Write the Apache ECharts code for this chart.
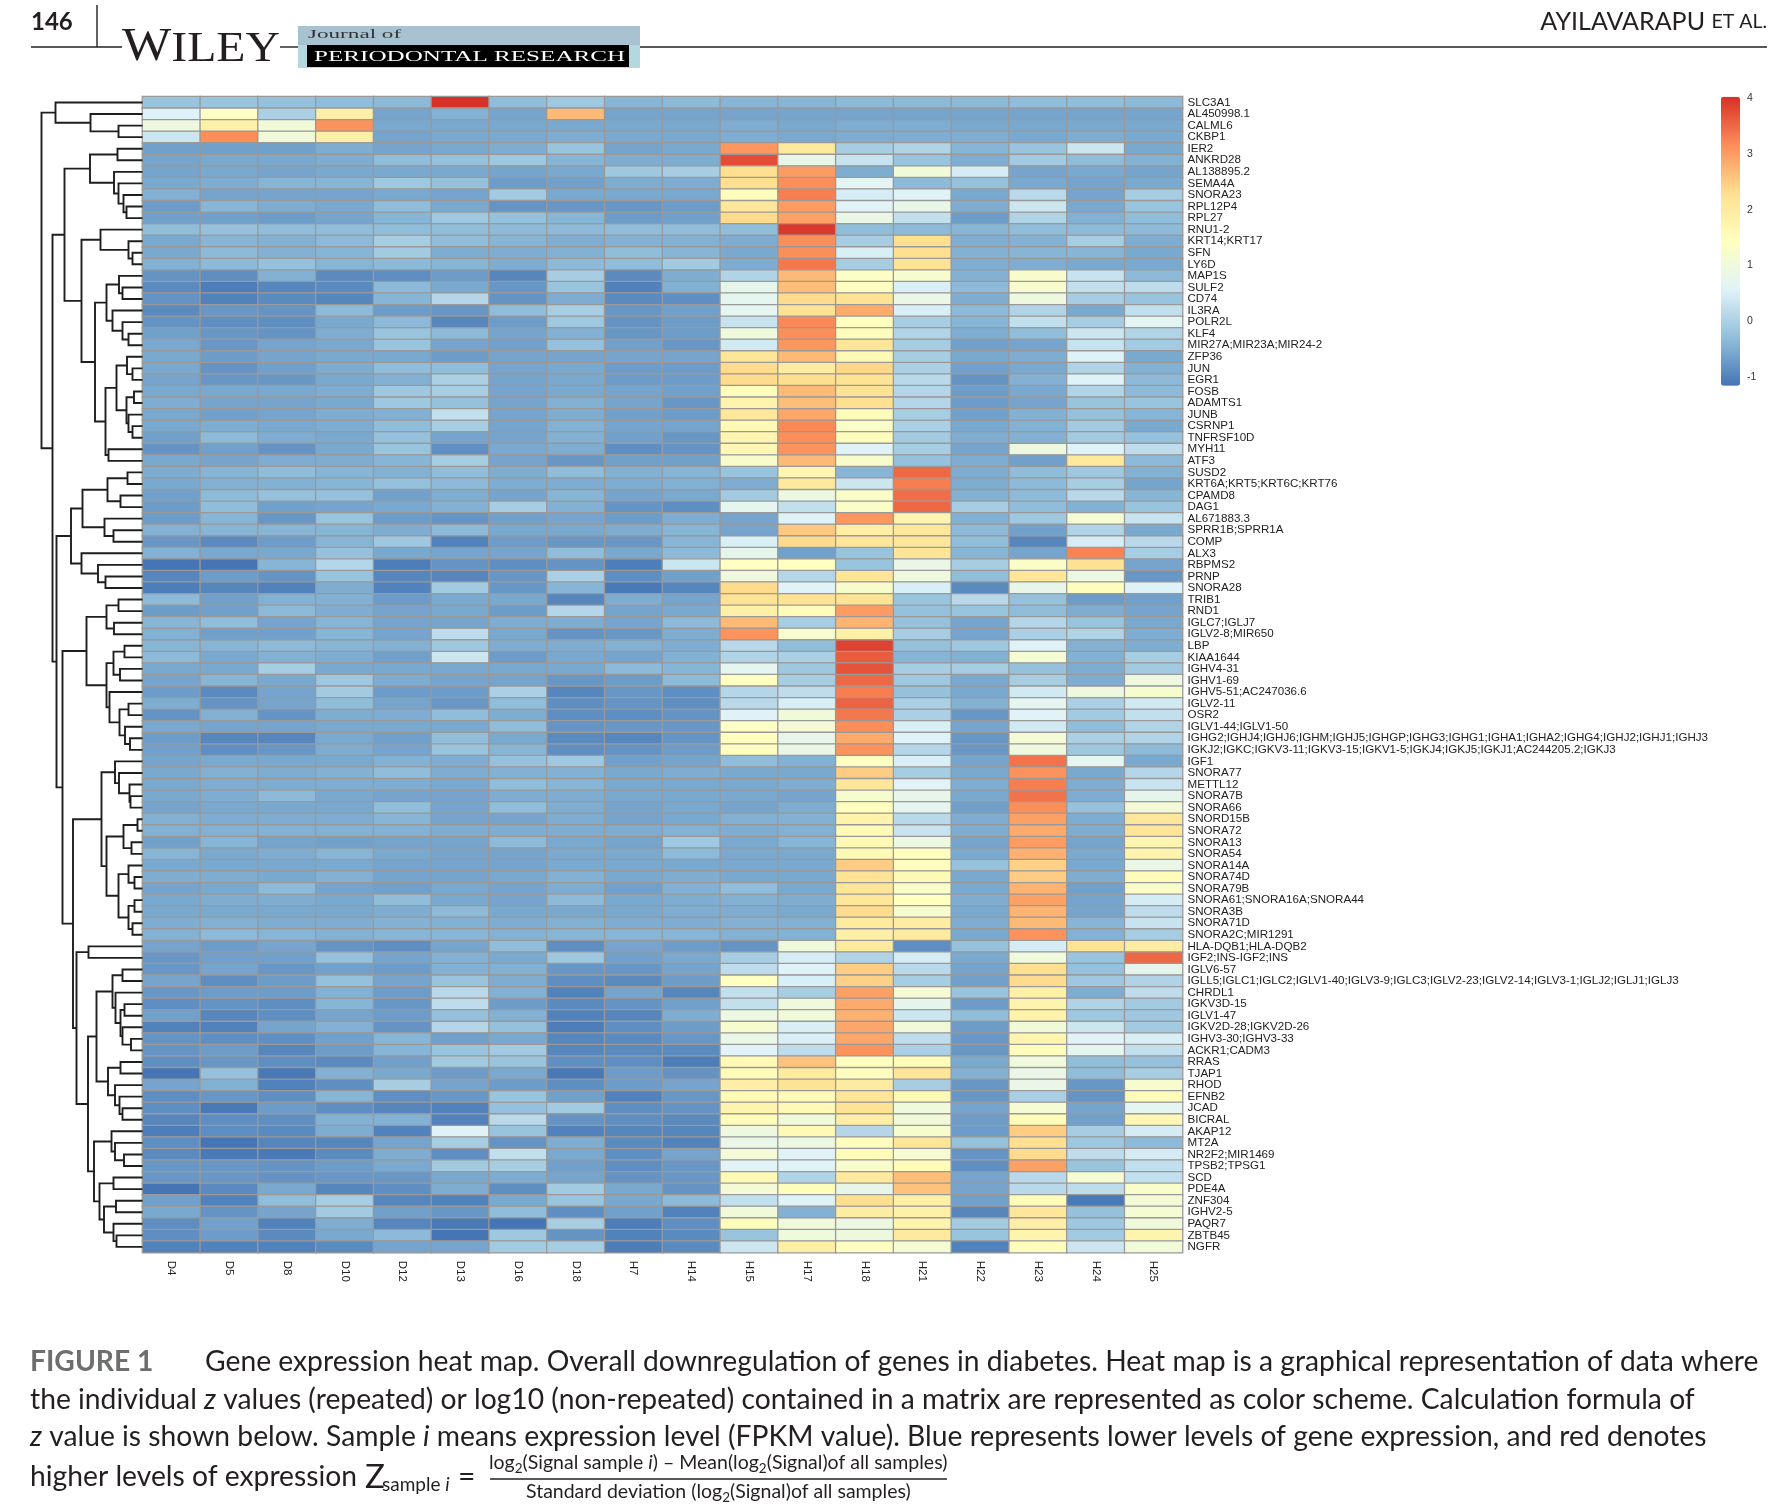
<!DOCTYPE html>
<html><head><meta charset="utf-8">
<style>html,body{margin:0;padding:0;background:#fff}#c{width:1774px;height:1506px}</style>
<script src="https://cdn.jsdelivr.net/npm/echarts@6/dist/echarts.min.js"></script>
</head><body><div id="c"></div>
<script>
const samples = ['D4','D5','D8','D10','D12','D13','D16','D18','H7','H14','H15','H17','H18','H21','H22','H23','H24','H25'];
const genes = ['SLC3A1','AL450998.1','CALML6','CKBP1','IER2','ANKRD28','AL138895.2','SEMA4A','SNORA23','RPL12P4','RPL27','RNU1-2','KRT14;KRT17','SFN','LY6D','MAP1S','SULF2','CD74','IL3RA','POLR2L','KLF4','MIR27A;MIR23A;MIR24-2','ZFP36','JUN','EGR1','FOSB','ADAMTS1','JUNB','CSRNP1','TNFRSF10D','MYH11','ATF3','SUSD2','KRT6A;KRT5;KRT6C;KRT76','CPAMD8','DAG1','AL671883.3','SPRR1B;SPRR1A','COMP','ALX3','RBPMS2','PRNP','SNORA28','TRIB1','RND1','IGLC7;IGLJ7','IGLV2-8;MIR650','LBP','KIAA1644','IGHV4-31','IGHV1-69','IGHV5-51;AC247036.6','IGLV2-11','OSR2','IGLV1-44;IGLV1-50','IGHG2;IGHJ4;IGHJ6;IGHM;IGHJ5;IGHGP;IGHG3;IGHG1;IGHA1;IGHA2;IGHG4;IGHJ2;IGHJ1;IGHJ3','IGKJ2;IGKC;IGKV3-11;IGKV3-15;IGKV1-5;IGKJ4;IGKJ5;IGKJ1;AC244205.2;IGKJ3','IGF1','SNORA77','METTL12','SNORA7B','SNORA66','SNORD15B','SNORA72','SNORA13','SNORA54','SNORA14A','SNORA74D','SNORA79B','SNORA61;SNORA16A;SNORA44','SNORA3B','SNORA71D','SNORA2C;MIR1291','HLA-DQB1;HLA-DQB2','IGF2;INS-IGF2;INS','IGLV6-57','IGLL5;IGLC1;IGLC2;IGLV1-40;IGLV3-9;IGLC3;IGLV2-23;IGLV2-14;IGLV3-1;IGLJ2;IGLJ1;IGLJ3','CHRDL1','IGKV3D-15','IGLV1-47','IGKV2D-28;IGKV2D-26','IGHV3-30;IGHV3-33','ACKR1;CADM3','RRAS','TJAP1','RHOD','EFNB2','JCAD','BICRAL','AKAP12','MT2A','NR2F2;MIR1469','TPSB2;TPSG1','SCD','PDE4A','ZNF304','IGHV2-5','PAQR7','ZBTB45','NGFR'];
// z values, one row per gene, columns in the order of samples
const expression = [
[-.2,-.2,-.25,-.3,-.35,4,-.3,-.15,-.4,-.35,-.4,-.4,-.35,-.35,-.35,-.3,-.3,-.35],
[.55,1.35,0,1.9,-.6,-.45,-.6,2.7,-.6,-.6,-.6,-.6,-.6,-.6,-.6,-.6,-.6,-.6],
[.95,1.85,1.05,3.1,-.55,-.55,-.55,-.55,-.55,-.55,-.5,-.55,-.5,-.5,-.55,-.55,-.55,-.55],
[.35,3.15,1.05,1.9,-.6,-.55,-.55,-.5,-.55,-.55,-.5,-.55,-.5,-.5,-.5,-.55,-.5,-.55],
[-.65,-.65,-.65,-.5,-.6,-.55,-.5,-.2,-.6,-.55,3.05,2.05,-.05,.05,-.4,-.2,.35,-.55],
[-.6,-.55,-.55,-.5,-.3,-.25,-.15,-.4,-.5,-.5,3.75,.8,.3,-.2,-.5,-.1,-.3,-.45],
[-.6,-.55,-.6,-.55,-.55,-.55,-.6,-.55,-.15,-.05,2.3,3,-.5,1.05,.45,-.6,-.55,-.6],
[-.55,-.5,-.4,-.4,-.15,-.25,-.7,-.65,-.5,-.5,2.3,3.15,.65,-.35,-.25,-.55,-.6,-.55],
[-.45,-.6,-.6,-.6,-.55,-.6,-.1,-.55,-.55,-.55,1.5,3.3,.45,.6,-.55,.15,-.6,-.05],
[-.7,-.4,-.5,-.55,-.3,-.55,-.8,-.75,-.75,-.7,2.1,3,.6,.8,-.5,.35,-.55,-.2],
[-.65,-.65,-.7,-.6,-.4,-.15,-.25,-.4,-.7,-.65,2.35,2.95,.85,.25,-.7,.05,-.45,-.3],
[-.3,-.25,-.3,-.3,-.3,-.3,-.35,-.35,-.3,-.3,-.3,3.95,-.3,-.35,-.4,-.3,-.35,-.35],
[-.55,-.4,-.45,-.35,-.05,-.3,-.4,-.5,-.45,-.45,-.5,3.15,-.05,2.3,-.5,-.45,-.05,-.5],
[-.55,-.35,-.45,-.4,-.1,-.5,-.5,-.45,-.3,-.4,-.55,3.15,.5,2.3,-.45,-.4,-.4,-.55],
[-.45,-.35,-.25,-.4,-.35,-.4,-.5,-.35,-.3,-.1,-.5,3.35,-.05,2.2,-.5,-.5,-.55,-.55],
[-.8,-.85,-.45,-.9,-.85,-.7,-.95,-.05,-.9,-.5,.05,2.7,1.35,1.2,-.45,1.25,.3,-.35],
[-.9,-1.05,-.95,-.9,-.35,-.55,-.75,-.2,-1,-.45,.75,2.65,1.4,.5,-.35,1.2,.25,.2],
[-.8,-1,-.9,-.95,-.4,.1,-.8,-.5,-.9,-.85,.7,2.35,2.2,.85,-.5,.95,-.05,-.2],
[-.9,-.75,-.8,-.35,-.7,-.75,-.3,-.05,-.75,-.65,.7,2.2,2.85,.5,-.35,.05,-.55,.25],
[-.8,-.85,-.85,-.55,-.35,-.95,-.7,-.15,-.8,-.7,.3,3.2,1.45,-.05,-.4,.25,-.05,.65],
[-.65,-.75,-.8,-.5,-.2,-.35,-.6,-.45,-.75,-.7,1,3.15,1.5,.05,-.5,-.3,.35,.05],
[-.55,-.75,-.6,-.55,-.2,-.6,-.65,-.25,-.65,-.75,.4,3.05,2.15,-.05,-.65,-.6,.3,-.1],
[-.55,-.7,-.6,-.55,-.55,-.7,-.6,-.6,-.6,-.6,2.15,2.7,1.6,-.05,-.55,-.5,.55,-.55],
[-.55,-.8,-.65,-.5,-.3,-.3,-.6,-.55,-.7,-.7,2.35,1.95,2.4,0,-.65,-.55,.05,-.45],
[-.6,-.75,-.75,-.55,-.45,0,-.6,-.55,-.7,-.7,2.35,2.3,2.2,.15,-.8,-.45,.55,-.35],
[-.55,-.55,-.55,-.5,-.15,-.05,-.6,-.55,-.6,-.65,1.5,2.7,2.2,.1,-.7,-.55,.05,-.35],
[-.5,-.6,-.6,-.55,-.15,-.25,-.6,-.45,-.6,-.75,1.75,2.65,2.3,.1,-.7,-.6,-.2,-.2],
[-.55,-.65,-.6,-.5,-.45,.25,-.6,-.5,-.65,-.7,2.1,2.9,1.55,-.05,-.65,-.45,-.25,-.4],
[-.55,-.5,-.55,-.5,-.3,-.05,-.6,-.45,-.6,-.6,1.6,3.2,1.3,0,-.55,-.45,-.1,-.55],
[-.65,-.35,-.5,-.55,-.25,-.6,-.6,-.45,-.65,-.75,1.7,3.15,1.5,-.1,-.5,-.45,-.1,-.25],
[-.8,-.65,-.8,-.55,-.2,-.85,-.55,-.5,-.85,-.8,1.65,3.1,.55,-.05,-.6,.95,.55,.2],
[-.55,-.6,-.5,-.5,-.4,-.05,-.6,-.75,-.65,-.65,1.25,2.7,1.25,-.25,-.5,-.65,2.05,-.35],
[-.5,-.4,-.3,-.4,-.45,-.3,-.5,-.3,-.45,-.4,-.2,1.7,-.4,3.5,-.5,-.3,-.15,-.45],
[-.55,-.45,-.45,-.4,-.25,-.35,-.5,-.5,-.5,-.45,-.5,2.05,.35,3.3,-.5,-.35,-.05,-.6],
[-.65,-.35,-.25,-.25,-.65,-.5,-.6,-.4,-.6,-.55,-.1,.9,1.3,3.45,-.45,-.35,.15,-.4],
[-.7,-.3,-.65,-.6,-.55,-.45,-.05,-.45,-.8,-.85,.7,.25,1.3,3.5,-.05,-.3,-.45,-.2],
[-.7,-.4,-.75,-.2,-.7,-.8,-.65,-.6,-.7,-.5,-.6,.55,3.05,1.7,-.45,-.15,1.15,.3],
[-.45,-.4,-.4,-.4,-.5,-.35,-.55,-.55,-.5,-.4,-.6,2.55,1.9,2.1,-.35,-.65,.05,-.55],
[-.75,-.9,-.7,-.4,-.15,-1,-.7,-.75,-.75,-.4,.5,2.35,2.1,2.1,-.3,-.95,.45,.15],
[-.45,-.55,-.55,-.25,-.55,-.6,-.6,-.3,-.55,-.35,.75,-.65,-.2,2.15,-.4,-.6,3.25,-.05],
[-1.15,-1.15,-.4,.1,-1.05,-.8,-.85,-.8,-1.05,.35,1.4,1.4,-.2,.85,-.05,1.3,2.25,-.6],
[-.95,-.7,-.8,-.2,-.95,-.95,-.75,0,-.85,-.65,.95,.1,2.15,.95,-.3,2.15,.9,-.75],
[-1.05,-.95,-1,-.5,-1,-.1,-.75,-.4,-1.1,-.95,2.35,.6,1.25,.5,-.9,.8,1.5,.55],
[-.35,-.65,-.45,-.45,-.7,-.55,-.55,-.95,-.5,-.6,2.2,2.2,2.2,-.2,.15,-.25,-.7,-.65],
[-.7,-.65,-.35,-.5,-.6,-.55,-.7,.1,-.6,-.55,1.85,1.55,3,-.25,-.2,-.3,-.5,-.6],
[-.4,-.3,-.6,-.4,-.6,-.6,-.5,-.5,-.6,-.35,2.7,-.05,2.75,-.25,-.6,.1,-.2,-.55],
[-.45,-.65,-.65,-.4,-.6,.2,-.55,-.8,-.75,-.5,3.1,1.2,1.85,-.05,-.6,0,.05,-.5],
[-.4,-.4,-.35,-.4,-.45,-.15,-.5,-.5,-.45,-.5,.15,-.3,3.85,-.25,-.15,.55,-.45,-.5],
[-.35,-.55,-.45,-.5,-.65,.35,-.7,-.55,-.6,-.45,.05,0,3.6,-.4,-.45,1.15,-.45,-.05],
[-.55,-.55,-.05,-.55,-.55,-.55,-.55,-.55,-.35,-.4,.7,-.15,3.7,-.05,-.05,-.25,-.5,-.1],
[-.6,-.4,-.55,-.15,-.5,-.6,-.6,-.75,-.7,-.35,1.4,-.05,3.5,-.15,-.55,-.05,-.5,.95],
[-.7,-.9,-.6,-.1,-.7,-.7,0,-.95,-.75,-.85,.1,.2,3.3,-.25,-.55,.4,.95,1.2],
[-.5,-.8,-.6,-.3,-.6,-.75,-.3,-.85,-.8,-.85,.15,.5,3.55,0,-.45,.7,0,.4],
[-.8,-.45,-.8,-.5,-.5,-.3,-.5,-.85,-.85,-.8,.55,1.05,3.35,0,-.75,.6,-.1,.25],
[-.55,-.6,-.6,-.55,-.55,-.55,-.3,-.8,-.75,-.75,1.35,1.1,3.15,.5,-.6,.4,-.3,.05],
[-.7,-.95,-.95,-.55,-.65,-.3,-.55,-.9,-.95,-.8,1.45,.8,2.85,.55,-.75,1.1,0,.05],
[-.65,-.85,-.75,-.5,-.6,-.2,-.4,-.85,-.8,-.7,1.45,.85,3.1,.1,-.75,.95,-.15,-.35],
[-.6,-.55,-.55,-.55,-.45,-.5,-.25,-.15,-.65,-.6,-.3,-.45,1.4,.5,-.6,3.4,.7,-.55],
[-.55,-.45,-.5,-.45,-.3,-.5,-.45,-.45,-.55,-.5,-.55,-.55,2.5,-.05,-.55,3.1,-.55,.1],
[-.55,-.5,-.5,-.5,-.5,-.55,-.3,-.4,-.55,-.55,-.55,-.5,2.1,.6,-.5,3.3,-.5,.3],
[-.55,-.5,-.35,-.55,-.6,-.6,-.5,-.5,-.55,-.55,-.55,-.6,1.2,.8,-.55,3.4,-.5,.75],
[-.6,-.55,-.55,-.55,-.3,-.6,-.3,-.5,-.6,-.55,-.6,-.5,1.45,.7,-.65,3.15,-.25,1.1],
[-.45,-.5,-.5,-.5,-.4,-.6,-.6,-.5,-.6,-.55,-.45,-.45,1.8,.15,-.5,2.95,-.5,2.1],
[-.45,-.45,-.45,-.45,-.45,-.5,-.5,-.5,-.5,-.45,-.5,-.45,1.6,.3,-.5,2.85,-.5,2.15],
[-.65,-.4,-.6,-.65,-.6,-.6,-.35,-.55,-.6,-.15,-.55,-.4,1.6,.9,-.6,3,-.6,1.7],
[-.4,-.55,-.5,-.4,-.55,-.6,-.6,-.55,-.55,-.35,-.55,-.55,1.6,1.45,-.55,2.8,-.55,1.75],
[-.55,-.55,-.55,-.55,-.6,-.6,-.6,-.55,-.55,-.55,-.55,-.55,2.5,1.45,-.25,2.45,-.55,.85],
[-.5,-.5,-.55,-.45,-.6,-.6,-.55,-.45,-.55,-.5,-.55,-.55,2.2,1.6,-.55,2.5,-.5,1.55],
[-.6,-.55,-.35,-.6,-.65,-.55,-.6,-.5,-.65,-.45,-.3,-.55,2.15,1.3,-.55,2.75,-.65,1.3],
[-.55,-.5,-.5,-.55,-.3,-.55,-.6,-.35,-.55,-.5,-.45,-.5,2.1,1.4,-.5,2.95,-.6,.45],
[-.55,-.55,-.55,-.55,-.5,-.35,-.55,-.55,-.55,-.5,-.5,-.55,2.35,1.2,-.55,2.75,-.6,.2],
[-.5,-.45,-.5,-.5,-.45,-.45,-.5,-.45,-.5,-.5,-.45,-.45,2,1.95,-.5,2.7,-.4,.3],
[-.45,-.35,-.4,-.45,-.4,-.4,-.45,-.4,-.4,-.4,-.45,-.45,1.85,2,-.55,3.1,-.45,-.05],
[-.6,-.7,-.6,-.8,-.85,-.6,-.3,-.85,-.6,-.7,-.8,1,2.05,-.85,-.25,.45,2.2,1.95],
[-.75,-.65,-.65,-.25,-.6,-.45,-.55,-.15,-.65,-.55,-.05,.45,.05,.45,-.55,1,-.2,3.5],
[-.75,-.6,-.75,-.65,-.7,-.45,-.45,-.75,-.75,-.6,.2,.55,2.5,.15,-.6,2.3,-.25,.75],
[-.6,-.85,-.7,-.25,-.6,-.2,-.5,-.85,-.9,-.7,1.4,.5,2.45,-.05,-.65,2.35,-.15,.05],
[-.75,-.7,-.7,-.45,-.7,.15,-.45,-1,-.6,-.95,.25,-.05,2.95,1.15,-.2,1.85,-.5,.2],
[-.85,-.8,-.85,-.4,-.75,.2,-.7,-.9,-.8,-.65,.25,1,2.85,.75,-.7,1.75,.05,-.1],
[-.65,-.95,-.85,-.6,-.7,-.25,-.45,-1,-.95,-.5,.9,1.05,2.8,.35,-.3,1.8,-.15,-.15],
[-1,-1,-.6,-.45,-.8,.1,-.25,-1.05,-.85,-.7,1.2,.5,2.9,1.05,-.7,1.05,.35,-.1],
[-.8,-.85,-.85,-.65,-.4,-.65,-.55,-.95,-.9,-.75,.85,.5,2.9,.2,-.75,1.7,.6,.5],
[-.8,-.7,-.95,-.7,-.4,-.2,-.1,-.95,-.9,-.9,.6,.2,3.1,0,-.75,1.5,.7,.25],
[-.85,-.75,-.85,-.9,-.65,-.1,-.2,-.85,-.85,-1.05,1.6,2.6,1.45,1.55,-.55,1,-.3,-.25],
[-1.15,-.25,-1.1,-.45,-.55,-.7,-.55,-1.1,-.7,-.8,1.55,2,1.45,2.15,-.45,.85,-.3,-.05],
[-.6,-.45,-1,-.85,-.05,-.6,-.7,-.85,-.7,-.6,1.9,2.2,2,-.05,-.75,.85,-.75,1.2],
[-.85,-.75,-.85,-.4,-.85,-.75,-.2,-.65,-1,-.75,1.6,1.55,2.15,1.6,-.75,0,-.8,1.55],
[-.85,-1.1,-.7,-.85,-.95,-1,-.25,-.1,-.85,-.8,1.75,1.6,2.2,1,-.6,1.15,-.6,.7],
[-.95,-.85,-.85,-.45,-.45,-1,.15,-.8,-.85,-.9,1.55,1.05,1.9,1.05,-.7,1.55,-.65,1.65],
[-1.05,-.85,-.9,-.5,-1,.55,-.2,-1,-.95,-.95,.95,1.6,.1,1.2,-.7,2.5,-.05,.45],
[-.85,-1.15,-.95,-.95,-.6,-.05,-.8,-.5,-.9,-1,.85,.9,1.45,2.15,-.25,2.3,-.15,-.35],
[-.9,-1.1,-1.1,-.9,-.5,-.85,.25,-.55,-.85,-.6,1.1,.6,1.55,1.15,-.8,2.35,.2,.45],
[-.75,-.75,-.8,-.7,-.55,-.1,-.05,-.65,-.85,-.75,.6,.6,1.25,1.55,-.85,2.95,-.2,.25],
[-.75,-.75,-.8,-.75,-.75,-.55,-.5,-.6,-.8,-.75,1.6,.05,2.05,2.65,-.6,.15,1.15,.25],
[-1.2,-.9,-.55,-.95,-.85,-.5,-.85,-.1,-.55,-.8,1.1,1.5,.8,2.6,-.6,.15,.2,1.3],
[-.65,-1,-.3,-.05,-.95,-1,-.55,-.2,-.55,-.35,.25,.55,2.3,1.85,-.65,1.55,-1.1,1.1],
[-.55,-.8,-.6,-.1,-.65,-.75,-.3,-.85,-.65,-1,1.05,-.45,1.95,1.85,-.95,2.1,-.25,1.15],
[-.85,-.65,-1,-.5,-.95,-1.1,-1.15,-.05,-1.05,-.85,1.5,1,.9,1.75,-.1,1.9,-.15,1],
[-.85,-.7,-.9,-.55,-.35,-1.2,-.15,-.8,-1,-.9,-.2,1,.95,2.05,-.2,1.75,-.1,1.75],
[-1,-1,-1,-.9,-.6,-.6,-.1,-.05,-1.05,-.9,.35,1.9,1.4,1.15,-1,1.5,.35,1.05]
];
// row dendrogram: [merge height, left, right]; a bare number is a gene row (1-based)
const rowTree = [101,
 [87,1,[52,2,[24,3,4]]],
 [90,
  [78,
   [52.5,[25,5,6],[28.5,7,[24,8,[19,9,[16,10,11]]]]],
   [61,
    [42,12,[14,13,[10,14,15]]],
    [47.5,
     [36,[23.5,16,[20,17,18]],[30,19,[20,20,[14,21,22]]]],
     [37,
      [26,[15.5,23,[10,24,25]],[16,[8.5,26,27],[14,28,[10,29,30]]]],
      [34,31,32]]]]],
  [86,
   [71.5,
    [60,[35,[15,33,34],[22,35,36]],[38,37,[29,38,39]]],
    [61,40,[44.5,41,[37,42,43]]]],
   [80,
    [56,
     [36,[24,44,45],[28.5,46,47]],
     [36,[29,[18,48,49],[22.5,50,51]],[33,52,[23,[14,53,54],[17.5,55,[12.5,56,57]]]]]],
    [69.5,
     [41,
      [27.5,58,[23.5,59,[13,60,[12,61,62]]]],
      [36,[19,[5,63,64],[11,65,66]],[24,[14,67,[8,68,69]],[14,[8,70,71],[10,72,73]]]]],
     [66,
      [54,74,75],
      [54.5,
       [46,
        [30,[20,76,77],[27,78,[22,[18,79,80],[20,81,[11.5,82,83]]]]],
        [34.5,[22,84,85],[27.5,86,[23,87,[20,88,89]]]]],
       [48.5,
        [31,90,[27.5,91,[18.5,92,93]]],
        [43,[29,94,95],[38.5,[26.5,96,97],[29,98,[26,99,100]]]]]]]]]]]];
const legendTicks = [-1,0,1,2,3,4];
const valueMin = -1.15, valueMax = 4.02;
const palette = ['#4575B4','#91BFDB','#E0F3F8','#FFFFBF','#FEE090','#FC8D59','#D73027'];

const heatData = [];
expression.forEach((row,r)=>row.forEach((v,c)=>heatData.push([c,r,v])));
const merges = [];
(function walk(n){
  if (typeof n==='number') return {h:0,y:n-0.5};
  const a=walk(n[1]), b=walk(n[2]);
  merges.push([n[0],a.h,a.y,b.h,b.y]);
  return {h:n[0],y:(a.y+b.y)/2};
})(rowTree);

const L=142.5,T=96.7,W=1040,H=1156;
const serif='"Liberation Serif",serif', sans='"Liberation Sans",Arial,sans-serif', lato='Lato,sans-serif';
const capSize=28.25;
function txt(x,y,text,opt){
  return {type:'text',silent:true,x:x,y:y,scaleX:opt.scaleX||1,originX:0,originY:0,style:Object.assign({text:text,fill:'#231f20',textAlign:'left',textVerticalAlign:'middle',fontFamily:lato,fontSize:capSize},opt.style||{})};
}
const cap={i:{fontFamily:lato,fontStyle:'italic',fontSize:capSize,fill:'#231f20'}};
const sub={s:{fontFamily:lato,fontSize:13.5,fill:'#231f20',verticalAlign:'bottom',lineHeight:26},n:{fontFamily:lato,fontSize:19.5,fill:'#231f20',lineHeight:26},i:{fontFamily:lato,fontStyle:'italic',fontSize:19.5,fill:'#231f20',lineHeight:26}};
const graphics=[
 {type:'line',silent:true,shape:{x1:97,y1:5,x2:97,y2:47},style:{stroke:'#231f20',lineWidth:1.4}},
 {type:'line',silent:true,shape:{x1:31,y1:47,x2:122,y2:47},style:{stroke:'#231f20',lineWidth:1.4}},
 {type:'line',silent:true,shape:{x1:280,y1:47,x2:298,y2:47},style:{stroke:'#231f20',lineWidth:1.4}},
 {type:'line',silent:true,shape:{x1:640,y1:47,x2:1767,y2:47},style:{stroke:'#231f20',lineWidth:1.4}},
 {type:'rect',silent:true,shape:{x:298,y:26,width:342,height:22},style:{fill:'#a8c2d2'}},
 {type:'rect',silent:true,shape:{x:298,y:45,width:342,height:23},style:{fill:'#b3d8e0'}},
 {type:'rect',silent:true,shape:{x:307,y:45,width:322,height:22},style:{fill:'#000'}},
 txt(31,22,'146',{style:{fontWeight:'bold',fontSize:24}}),
 txt(122,48,'{a|W}{b|ILEY}',{scaleX:1.11,style:{rich:{a:{fontFamily:serif,fontSize:47,fill:'#231f20'},b:{fontFamily:serif,fontSize:43,fill:'#231f20',verticalAlign:'bottom'}}}}),
 txt(308,35,'Journal of',{scaleX:1.85,style:{fontFamily:serif,fontSize:12.5,fill:'#333'}}),
 txt(314,56.5,'PERIODONTAL RESEARCH',{scaleX:1.62,style:{fontFamily:serif,fontSize:15.5,fill:'#fff'}}),
 txt(1767,22,'AYILAVARAPU {e|ET AL.}',{style:{textAlign:'right',fontSize:25,rich:{e:{fontFamily:lato,fontSize:19.5,fill:'#231f20'}}}}),
 txt(30,1362,'FIGURE 1',{style:{fontWeight:'bold',fill:'#6d6e70',fontSize:capSize}}),
 txt(205,1362,'Gene expression heat map. Overall downregulation of genes in diabetes. Heat map is a graphical representation of data where',{}),
 txt(30,1400,'the individual {i|z} values (repeated) or log10 (non-repeated) contained in a matrix are represented as color scheme. Calculation formula of',{style:{rich:cap}}),
 txt(30,1437,'{i|z} value is shown below. Sample {i|i} means expression level (FPKM value). Blue represents lower levels of gene expression, and red denotes',{style:{rich:cap}}),
 txt(30,1477,'higher levels of expression',{}),
 txt(365,1477,'Z',{style:{fontSize:33,fontFamily:lato}}),
 txt(382,1485,'sample {j|i}',{style:{fontSize:19,rich:{j:{fontFamily:lato,fontStyle:'italic',fontSize:19,fill:'#231f20'}}}}),
 txt(458,1477,'=',{style:{fontSize:30}}),
 txt(489,1463,'log{s|2}{n|(Signal sample }{i|i}{n|) – Mean(log}{s|2}{n|(Signal)of all samples)}',{style:{fontSize:19.5,rich:sub}}),
 {type:'line',silent:true,shape:{x1:490,y1:1479,x2:947,y2:1479},style:{stroke:'#231f20',lineWidth:1.4}},
 txt(526,1492,'Standard deviation (log{s|2}{n|(Signal)of all samples)}',{style:{fontSize:19.5,rich:sub}})
];

const chart=echarts.init(document.getElementById('c'),null,{renderer:'canvas',width:1774,height:1506});
chart.setOption({
 animation:false,backgroundColor:'#fff',
 grid:[
  {left:L,top:T,width:W,height:H,containLabel:false},
  {left:30,top:T,width:L-30,height:H},
  {left:1721,top:T,width:19,height:289}
 ],
 xAxis:[
  {type:'category',gridIndex:0,data:samples,position:'bottom',axisLine:{show:false},axisTick:{show:false},splitLine:{show:false},
   axisLabel:{rotate:-90,interval:0,margin:8,fontFamily:sans,fontSize:11.5,color:'#222'}},
  {type:'value',gridIndex:1,min:0,max:L-30,inverse:true,show:false,splitLine:{show:false}},
  {type:'value',gridIndex:2,min:0,max:1,show:false,splitLine:{show:false}}
 ],
 yAxis:[
  {type:'category',gridIndex:0,data:genes,inverse:true,position:'right',axisLine:{show:false},axisTick:{show:false},splitLine:{show:false},
   axisLabel:{interval:0,margin:5,fontFamily:sans,fontSize:11.6,color:'#222',padding:[2,0,0,0]}},
  {type:'value',gridIndex:1,min:0,max:100,inverse:true,show:false,splitLine:{show:false}},
  {type:'value',gridIndex:2,min:valueMin,max:valueMax,position:'right',splitLine:{show:false},axisLine:{show:false},axisTick:{show:false},
   axisLabel:{customValues:legendTicks,margin:7,fontFamily:sans,fontSize:10.5,color:'#333',showMinLabel:true,showMaxLabel:true}}
 ],
 visualMap:{type:'continuous',seriesIndex:0,min:valueMin,max:valueMax,left:1721,top:T,itemWidth:19,itemHeight:289,padding:0,text:['',''],showLabel:false,calculable:false,hoverLink:false,inRange:{color:palette}},
 series:[
  {type:'heatmap',xAxisIndex:0,yAxisIndex:0,data:heatData,progressive:0,itemStyle:{borderColor:'#999',borderWidth:1.3},emphasis:{disabled:true},silent:true},
  {type:'custom',xAxisIndex:1,yAxisIndex:1,data:merges,clip:false,silent:true,encode:{x:0,y:2},
   renderItem:function(p,api){
    const h=api.value(0),ha=api.value(1),ya=api.value(2),hb=api.value(3),yb=api.value(4);
    return {type:'polyline',shape:{points:[api.coord([ha,ya]),api.coord([h,ya]),api.coord([h,yb]),api.coord([hb,yb])]},style:{stroke:'#1e1e1e',lineWidth:1.9,fill:null}};
   }}
 ],
 graphic:graphics
});
</script></body></html>
